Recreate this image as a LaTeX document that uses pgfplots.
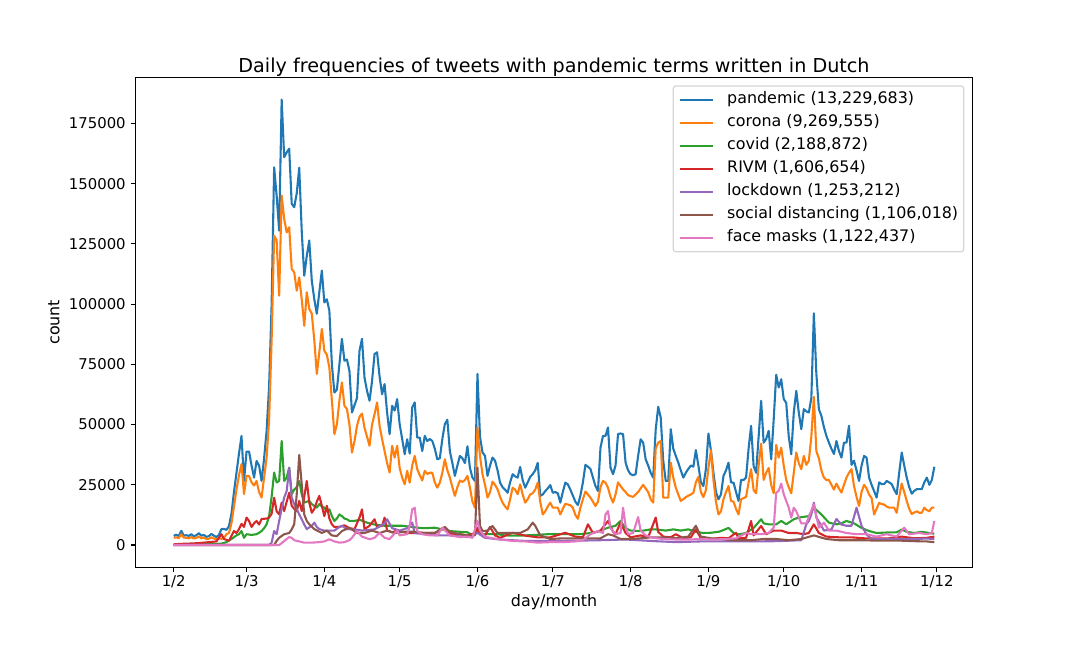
\documentclass[border=0pt]{standalone}
\usepackage{fontspec}
\setmainfont{DejaVu Sans}
\usepackage{pgfplots}
\pgfplotsset{compat=1.18}
\definecolor{cA}{HTML}{1F77B4}
\definecolor{cB}{HTML}{FF7F0E}
\definecolor{cC}{HTML}{2CA02C}
\definecolor{cD}{HTML}{D62728}
\definecolor{cE}{HTML}{9467BD}
\definecolor{cF}{HTML}{8C564B}
\definecolor{cG}{HTML}{E377C2}
\definecolor{legframe}{HTML}{D6D6D6}
\begin{document}
\begin{tikzpicture}
\useasboundingbox (0,0) rectangle (777.6pt,466.56pt);
\begin{axis}[
  at={(97.7pt,58.1pt)}, anchor=south west, scale only axis,
  width=602.4pt, height=352.8pt,
  xmin=-15.15, xmax=318.15, ymin=-9245, ymax=194145,
  axis line style={black, line width=0.8pt},
  tick pos=left, tick align=outside, major tick length=3.5pt,
  tick style={black, line width=0.8pt},
  xtick={0,29,60,90,121,151,182,213,243,274,304},
  xticklabels={\mbox{1/2},\mbox{1/3},\mbox{1/4},\mbox{1/5},\mbox{1/6},\mbox{1/7},\mbox{1/8},\mbox{1/9},\mbox{1/10},\mbox{1/11},\mbox{1/12}},
  ytick={0,25000,50000,75000,100000,125000,150000,175000},
  scaled y ticks=false,
  /pgf/number format/fixed,
  /pgf/number format/precision=0,
  /pgf/number format/assume math mode=true,
  /pgf/number format/1000 sep={},
  tick label style={font=\fontsize{10.7}{12.8}\selectfont},
  xticklabel style={anchor=base, yshift=-10.5pt},
  yticklabel style={anchor=east, inner sep=0pt, xshift=-3.5pt},
  label style={font=\fontsize{11.45}{13.7}\selectfont},
  xlabel={day/month},
  ylabel={count},
  xlabel style={at={(axis description cs:0.5,-0.0799)}, anchor=base},
  ylabel style={at={(axis description cs:-0.0913,0.5)}, anchor=base},
  title={Daily frequencies of tweets with pandemic terms written in Dutch},
  title style={at={(axis description cs:0.5,1)}, anchor=base, yshift=-2.2pt, font=\fontsize{13.8}{16.5}\selectfont},
  legend style={at={(1,1)}, anchor=north east, xshift=-5.76pt, yshift=-5.76pt,
    draw=legframe, line width=0.9pt, rounded corners=2pt, fill=white,
    inner xsep=4pt, inner ysep=4.6pt, row sep=5.7pt,
    font=\fontsize{11.45}{13.7}\selectfont,
    nodes={inner sep=0pt, text height=8.3pt, text depth=2.56pt},
    /tikz/every odd column/.append style={column sep=9.4pt}},
  legend cell align=left,
  legend image code/.code={\draw[#1] (0pt,0pt) -- (24pt,0pt);},
  every axis plot/.append style={line width=1.5pt, line join=round, no markers},
]
\addplot[cA] coordinates {(0,3800)(1,4300)(2,3700)(3,5900)(4,3900)(5,4100)(6,3800)(7,4500)(8,3600)(9,4100)(10,4900)(11,3900)(12,4200)(13,3400)(14,3700)(15,4600)(16,3900)(17,3300)(18,4200)(19,6600)(20,6700)(21,6300)(22,7800)(23,13000)(24,22000)(25,30000)(26,38000)(27,45300)(28,26600)(29,38800)(30,38800)(31,33000)(32,28000)(33,34900)(34,33000)(35,26600)(36,36000)(37,47400)(38,66000)(39,100000)(40,156800)(41,145000)(42,130500)(43,184900)(44,161000)(45,163000)(46,164500)(47,141700)(48,140200)(49,146000)(50,156600)(51,130000)(52,111800)(53,120000)(54,126400)(55,109700)(56,102000)(57,96000)(58,105000)(59,113900)(60,100700)(61,102000)(62,97300)(63,75000)(64,63300)(65,64500)(66,75000)(67,85600)(68,76500)(69,77000)(70,72300)(71,55000)(72,58000)(73,61000)(74,80600)(75,85600)(76,69500)(77,64000)(78,59900)(79,68000)(80,79300)(81,80000)(82,70000)(83,62600)(84,66800)(85,55000)(86,46000)(87,57800)(88,55800)(89,60600)(90,50200)(91,44000)(92,37700)(93,43900)(94,38000)(95,57100)(96,59200)(97,44600)(98,44600)(99,39000)(100,45300)(101,43200)(102,44000)(103,43200)(104,40000)(105,35600)(106,36000)(107,44000)(108,50200)(109,52000)(110,39000)(111,34000)(112,28700)(113,33000)(114,37000)(115,36000)(116,34000)(117,41000)(118,32000)(119,28000)(120,26600)(121,71000)(122,45000)(123,38500)(124,37000)(125,28700)(126,33000)(127,36300)(128,35000)(129,31000)(130,25900)(131,24000)(132,23000)(133,21700)(134,26000)(135,29400)(136,28500)(137,28000)(138,32400)(139,27000)(140,23800)(141,26000)(142,28300)(143,29400)(144,31000)(145,34100)(146,20400)(147,21000)(148,22400)(149,23500)(150,24900)(151,21700)(152,22000)(153,21500)(154,17600)(155,22000)(156,25900)(157,25200)(158,23000)(159,20500)(160,18000)(161,16600)(162,20500)(163,26000)(164,33300)(165,32500)(166,31600)(167,28000)(168,24500)(169,22400)(170,40400)(171,45300)(172,45300)(173,48800)(174,32100)(175,29400)(176,33000)(177,46100)(178,46300)(179,46000)(180,34200)(181,31000)(182,29400)(183,29000)(184,29400)(185,37000)(186,43900)(187,42500)(188,35600)(189,33000)(190,30000)(191,28000)(192,48000)(193,57400)(194,52900)(195,35000)(196,26600)(197,26600)(198,48100)(199,40000)(200,37000)(201,34200)(202,31000)(203,28000)(204,30000)(205,31600)(206,33000)(207,32500)(208,39400)(209,33000)(210,26000)(211,24500)(212,31600)(213,46300)(214,39300)(215,30000)(216,22000)(217,19000)(218,21000)(219,28700)(220,31000)(221,34200)(222,26000)(223,25900)(224,22000)(225,18300)(226,27000)(227,27000)(228,28000)(229,40000)(230,49500)(231,32800)(232,30000)(233,45000)(234,59900)(235,42500)(236,44000)(237,47400)(238,35600)(239,52000)(240,70700)(241,65400)(242,68800)(243,60600)(244,59000)(245,45000)(246,37700)(247,55000)(248,64000)(249,55000)(250,48100)(251,56400)(252,55500)(253,55000)(254,61000)(255,96200)(256,71000)(257,56400)(258,53600)(259,49000)(260,45300)(261,42500)(262,40000)(263,37800)(264,43200)(265,39000)(266,36300)(267,42500)(268,42500)(269,49500)(270,33300)(271,35000)(272,31000)(273,26600)(274,33000)(275,37000)(276,36300)(277,28000)(278,25000)(279,22400)(280,19700)(281,26000)(282,25300)(283,25300)(284,26600)(285,26000)(286,25300)(287,23000)(288,21100)(289,30000)(290,38400)(291,33000)(292,28000)(293,24000)(294,21300)(295,22500)(296,23200)(297,23200)(298,23200)(299,26000)(300,28000)(301,25000)(302,27000)(303,32500)};
\addlegendentry{pandemic (13,229,683)}
\addplot[cB] coordinates {(0,3000)(1,3200)(2,2900)(3,4500)(4,3100)(5,3000)(6,2800)(7,3300)(8,2700)(9,3000)(10,3500)(11,2800)(12,3100)(13,2500)(14,2600)(15,3200)(16,2700)(17,2400)(18,2800)(19,2600)(20,2900)(21,4500)(22,5000)(23,9000)(24,16000)(25,23000)(26,29000)(27,33600)(28,21200)(29,28700)(30,28700)(31,26000)(32,24700)(33,26600)(34,22000)(35,19700)(36,28000)(37,36300)(38,52000)(39,85000)(40,128400)(41,126400)(42,103500)(43,145100)(44,135400)(45,129800)(46,131900)(47,114600)(48,113200)(49,105600)(50,111100)(51,102000)(52,91000)(53,104900)(54,98000)(55,96000)(56,85000)(57,71000)(58,80000)(59,89700)(60,80600)(61,79000)(62,73700)(63,60000)(64,46000)(65,50100)(66,60000)(67,67500)(68,57800)(69,56500)(70,50000)(71,38400)(72,43000)(73,49500)(74,53200)(75,54600)(76,48700)(77,45000)(78,41200)(79,50000)(80,54300)(81,59200)(82,49500)(83,44000)(84,39000)(85,34000)(86,30100)(87,41200)(88,36300)(89,41200)(90,32000)(91,28000)(92,25200)(93,30800)(94,25900)(95,33000)(96,37000)(97,31500)(98,29000)(99,26800)(100,30800)(101,29500)(102,30000)(103,30000)(104,26000)(105,23800)(106,25900)(107,30000)(108,35600)(109,31000)(110,28000)(111,24000)(112,20400)(113,24000)(114,26800)(115,26200)(116,27000)(117,28700)(118,23800)(119,18000)(120,15500)(121,48800)(122,37000)(123,29400)(124,25000)(125,19700)(126,22000)(127,26300)(128,25000)(129,23100)(130,20000)(131,17600)(132,16000)(133,14800)(134,19000)(135,23800)(136,23000)(137,21100)(138,25200)(139,21000)(140,17600)(141,19000)(142,21000)(143,21500)(144,23000)(145,25900)(146,18000)(147,12700)(148,14000)(149,16000)(150,17600)(151,15500)(152,15500)(153,15500)(154,12700)(155,15000)(156,17100)(157,16800)(158,16500)(159,15500)(160,12500)(161,10900)(162,15500)(163,19000)(164,22200)(165,21000)(166,19700)(167,18000)(168,16200)(169,18000)(170,24000)(171,26600)(172,25900)(173,23800)(174,20000)(175,17600)(176,21000)(177,26000)(178,24500)(179,23100)(180,22000)(181,20700)(182,20300)(183,20000)(184,21000)(185,22000)(186,23500)(187,25000)(188,23500)(189,22000)(190,19000)(191,17600)(192,40000)(193,42500)(194,43200)(195,19700)(196,19700)(197,19700)(198,34200)(199,28000)(200,23800)(201,21000)(202,18300)(203,19000)(204,19900)(205,20500)(206,21000)(207,21700)(208,26000)(209,28300)(210,22000)(211,19900)(212,22800)(213,32000)(214,39400)(215,27000)(216,18000)(217,12700)(218,14000)(219,19000)(220,22000)(221,24500)(222,18300)(223,18000)(224,15000)(225,12700)(226,19000)(227,19500)(228,20000)(229,26000)(230,31500)(231,22800)(232,21500)(233,33000)(234,42100)(235,27000)(236,30000)(237,32000)(238,25000)(239,21500)(240,41600)(241,36300)(242,40400)(243,33000)(244,27000)(245,24000)(246,21500)(247,30000)(248,38400)(249,34000)(250,31500)(251,37000)(252,33300)(253,35000)(254,45000)(255,61500)(256,38900)(257,36000)(258,31000)(259,28000)(260,27000)(261,27000)(262,25000)(263,23000)(264,25500)(265,23500)(266,21800)(267,25000)(268,28000)(269,30000)(270,31500)(271,24500)(272,20000)(273,16200)(274,22000)(275,25000)(276,23500)(277,21000)(278,19500)(279,12700)(280,15000)(281,17500)(282,17000)(283,16800)(284,16000)(285,15500)(286,15500)(287,15500)(288,13400)(289,20000)(290,25500)(291,22000)(292,18300)(293,15000)(294,12900)(295,13500)(296,14000)(297,13400)(298,13400)(299,15500)(300,14500)(301,14000)(302,15500)(303,15500)};
\addlegendentry{corona (9,269,555)}
\addplot[cC] coordinates {(0,200)(5,250)(10,300)(15,400)(19,600)(21,1200)(23,2500)(25,4000)(26,4500)(27,5800)(28,3000)(29,4500)(31,4200)(33,4500)(34,5100)(35,5800)(36,7000)(37,8600)(38,12000)(39,20000)(40,30100)(41,26000)(42,26600)(43,43200)(44,26600)(45,28000)(46,32100)(47,21100)(48,23000)(49,24000)(50,26600)(51,21000)(52,17600)(53,18000)(54,18300)(55,17000)(56,16200)(57,15500)(58,17000)(59,16000)(60,15500)(61,14000)(62,14800)(63,12000)(64,10000)(65,11000)(66,12700)(67,12000)(68,11000)(69,10700)(70,10000)(72,10000)(74,10500)(77,9300)(80,8500)(84,8000)(88,8000)(91,8000)(95,7500)(97,7200)(100,7000)(104,7200)(107,6500)(110,5800)(114,5500)(117,5300)(119,4000)(121,6000)(123,4500)(126,4500)(129,4500)(132,4000)(136,3900)(140,4000)(144,4200)(149,4500)(155,4500)(162,4500)(167,5100)(170,6000)(173,7200)(176,8000)(178,10000)(180,7000)(182,6000)(186,5800)(190,6500)(192,6500)(196,6000)(199,6500)(202,6000)(205,6500)(208,5500)(211,5000)(214,5100)(217,5500)(218,5800)(221,7100)(223,5000)(225,4400)(228,5000)(231,7100)(234,10700)(235,9000)(237,8600)(240,8600)(242,10000)(244,8600)(247,10700)(249,11400)(253,12000)(255,15500)(258,12700)(261,9300)(264,8600)(266,9000)(268,10000)(271,9000)(274,7100)(277,5800)(280,5000)(284,5200)(288,5300)(290,6400)(292,5500)(295,5000)(298,5500)(301,5000)(303,4700)};
\addlegendentry{covid (2,188,872)}
\addplot[cD] coordinates {(0,300)(3,500)(6,600)(10,800)(14,1200)(17,1500)(18,3000)(19,4500)(20,2500)(22,1800)(24,5800)(25,5000)(26,6600)(27,8800)(28,7500)(29,11400)(30,10000)(31,7500)(32,9000)(33,10000)(34,8500)(35,10800)(37,11000)(38,11400)(39,13000)(40,19700)(41,14000)(42,12700)(43,17600)(44,14100)(45,18000)(46,21700)(47,16300)(48,15000)(49,14100)(50,18300)(51,14100)(52,20000)(53,26600)(54,17600)(55,13400)(56,15000)(57,18000)(58,20400)(59,16300)(60,12000)(61,16300)(62,11000)(63,8600)(64,7500)(66,7500)(68,8200)(70,7000)(72,6600)(74,11400)(75,14800)(76,6600)(78,8000)(80,10700)(81,7500)(83,8000)(84,11400)(85,6000)(87,5300)(89,6000)(91,5500)(93,5000)(96,5000)(100,5000)(104,5000)(108,7200)(110,4500)(114,4500)(117,4000)(120,5000)(121,7200)(122,4500)(124,4000)(126,7500)(128,4000)(130,3000)(135,5100)(140,3900)(145,3200)(150,3200)(156,5100)(160,3500)(163,3200)(165,8600)(167,5000)(170,6000)(173,10000)(175,5500)(176,4500)(178,9300)(180,5000)(182,3200)(186,4000)(189,3200)(192,11400)(193,5500)(195,3500)(198,3200)(200,4500)(203,2800)(206,3200)(208,6500)(210,2800)(214,2500)(218,3000)(221,2800)(224,5100)(225,2800)(228,3000)(230,10000)(231,4000)(234,7900)(236,4500)(239,6000)(242,6000)(245,5000)(248,5000)(251,4500)(253,5000)(255,8600)(257,5000)(260,3500)(265,3200)(270,3200)(275,2800)(280,2800)(285,2800)(290,3500)(295,2800)(300,3000)(303,3500)};
\addlegendentry{RIVM (1,606,654)}
\addplot[cE] coordinates {(0,0)(38,0)(39,1000)(40,5800)(41,4500)(42,10000)(43,15000)(44,19700)(45,22400)(46,32100)(47,19700)(48,17000)(49,15000)(50,12700)(51,10700)(52,8500)(53,6600)(55,8000)(56,9300)(57,7500)(58,6600)(60,6000)(62,6000)(64,6000)(66,7500)(67,8000)(69,6600)(72,6500)(75,6000)(80,6500)(84,9000)(85,10700)(87,7000)(90,6000)(93,7000)(95,9300)(96,5000)(100,4500)(105,4000)(110,4000)(117,3300)(121,5000)(124,3000)(130,2300)(140,1700)(150,1700)(160,1800)(170,2000)(180,2300)(190,1700)(200,1200)(210,1500)(220,1500)(230,1500)(240,1600)(250,2000)(252,8600)(253,10000)(254,12700)(255,17600)(256,11400)(258,8000)(259,6000)(262,6500)(264,10800)(266,8500)(268,8000)(270,8000)(272,15500)(274,8000)(276,4400)(278,2500)(285,2500)(290,2500)(295,2500)(300,2700)(303,2500)};
\addlegendentry{lockdown (1,253,212)}
\addplot[cF] coordinates {(0,0)(40,0)(41,1700)(42,3000)(44,4500)(46,5000)(47,6500)(48,8600)(49,21100)(50,37400)(51,25000)(52,12700)(53,10000)(54,8600)(56,6600)(59,5000)(61,6000)(63,4000)(65,3700)(67,5800)(70,7200)(73,5000)(76,5000)(79,6000)(82,5000)(85,6000)(88,5000)(92,5500)(96,5500)(100,5000)(104,5000)(108,7500)(110,5500)(114,4500)(117,4000)(120,4000)(121,32100)(122,8000)(123,5800)(125,6000)(127,7900)(129,5000)(132,5000)(135,5000)(138,5000)(141,6500)(143,9300)(144,8000)(146,4000)(150,2500)(155,2800)(160,2800)(165,2800)(170,2800)(173,4500)(175,4000)(178,2500)(182,2500)(186,2800)(190,3200)(195,3200)(200,2800)(205,3500)(208,8000)(210,3500)(214,2800)(218,2500)(222,2000)(226,2000)(230,2000)(235,2500)(240,2500)(245,2000)(250,2500)(255,4000)(260,2500)(265,2000)(270,2000)(275,2000)(280,1800)(285,1800)(290,1800)(295,1600)(300,1500)(303,1200)};
\addlegendentry{social distancing (1,106,018)}
\addplot[cG] coordinates {(0,0)(42,0)(43,800)(45,2500)(46,3300)(47,3000)(48,2000)(50,1500)(52,1000)(55,1000)(58,1200)(60,1500)(62,2400)(64,1500)(66,1000)(68,1200)(70,2000)(71,3000)(73,5800)(75,3500)(78,2400)(80,3000)(82,5000)(84,3000)(86,2500)(89,6000)(90,4000)(93,4500)(94,7900)(95,14800)(96,15500)(97,5800)(99,4500)(102,4000)(105,4000)(107,7200)(110,4000)(114,3300)(117,3500)(119,3000)(121,10000)(122,6000)(124,3500)(127,2800)(130,2300)(135,1700)(140,1500)(145,1000)(150,1200)(155,1200)(160,1500)(163,2000)(166,4500)(169,5800)(171,5000)(172,12700)(173,14100)(174,7000)(176,4500)(178,5000)(179,15500)(180,8000)(181,4500)(183,5000)(185,11600)(186,6000)(188,4000)(191,3000)(195,2500)(200,2300)(205,2300)(210,2500)(215,2300)(220,2500)(224,2800)(228,5000)(230,4500)(234,4500)(237,5000)(239,7200)(240,21700)(241,22500)(242,25500)(243,21100)(245,15500)(246,11400)(247,15500)(248,14000)(250,9000)(252,9000)(255,16900)(257,7200)(259,9300)(261,6000)(264,6000)(268,5000)(272,4500)(276,4500)(280,3500)(284,4500)(288,3500)(291,7200)(293,4500)(297,5000)(300,4500)(302,5000)(303,10000)};
\addlegendentry{face masks (1,122,437)}
\end{axis}
\end{tikzpicture}
\end{document}
